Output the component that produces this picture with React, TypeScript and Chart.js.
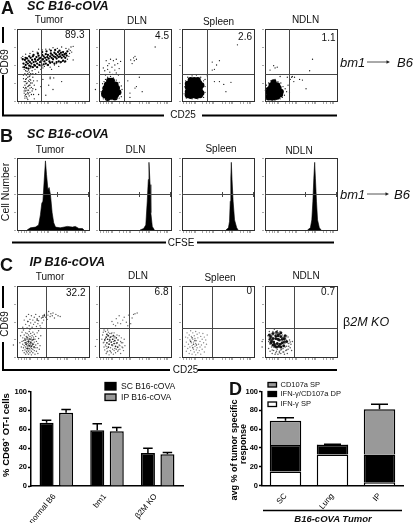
import React, { useEffect, useRef } from "react";
import { Chart, registerables } from "chart.js";

Chart.register(...registerables);

const FONT = '"Liberation Sans", Arial, sans-serif';

// ---- Flow cytometry dot plots: flat x,y lists, percent of panel axes ----
const aTumorSparse = [6,60,8,47,10,44,12,42,11,38,14,45,16,43,13,36,17,40,19,46,15,33,18,35,21,42,20,37,12,30,16,28,14,25,10,27,18,30,22,33,11,22,15,20,13,18,17,22,19,25,20,19,9,19,12,14,16,15,18,12,10,11,14,10,21,14,13,6,23,9,11,4,17,7,24,3,15,2,26,16,28,28,30,40,33,44,36,46,25,44,38,48,42,50,46,47,48,44,52,50,55,52,60,53,58,48,63,55,66,54,70,58,72,62,74,70,75,75,73,66,76,68,78,57,40,72,45,72,50,74,56,73,62,75,28,68,22,69,18,66,30,72,35,71,12,65,8,62,68,73,72,72,46,31,46,33,51,32,44,22,50,16,62,27,36,30,33,20,30,9,78,76,40,8,-7,16,15,-7,16,-8,9,36,13,31,15,38,17,34,11,17,13,24,16,21,19,29,21,25,10,14,12,9,15,12,18,18,20,9,22,17,24,22,26,38,14,41,17,27,19,38,22,38,12,27,9,31,16,10,14,4,12,19,23,28,18,22,14,15,11,7];
const aTumorCore = [9,52,11,57,12,50,13,54,14,59,15,52,16,56,17,49,18,54,19,60,20,52,21,57,22,62,23,54,24,50,25,58,26,55,27,61,28,52,29,57,30,63,31,59,32,54,33,60,34,56,35,64,36,58,37,62,38,55,39,60,40,65,41,57,42,61,43,64,44,59,45,55,46,62,47,66,48,60,49,64,50,58,51,62,52,67,53,61,54,65,55,59,56,63,57,68,58,61,59,65,60,62,61,67,62,60,63,64,64,68,65,62,66,65,67,60,68,66,69,63,70,69,8,58,12,60,17,62,23,64,29,66,35,68,41,69,47,70,53,71,59,70,10,47,13,46,16,45,19,48,22,47,25,49,28,47,31,50,34,49,37,51,40,52,43,50,46,53,49,54,52,52,55,54,58,55,61,54,64,56,67,55];
const aDlnSparse = [4,7,3,13,5,18,5,24,7,27,9,30,12,33,16,34,20,32,24,29,28,26,31,21,32,16,30,10,31,6,28,4,24,3,18,2,10,2,6,3,8,42,12,44,15,40,18,47,22,50,26,52,14,52,20,56,10,56,24,58,6,46,28,45,16,58,30,55,12,49,22,43,24,39,19,37,9,36,27,36,44,57,48,60,50,62,46,52,49,56,52,58,43,11,43,5,50,18,60,13,52,20,40,28,56,33,78,75,-5,16,18,-8];
const aDlnCore = [8,8,12,7,16,6,20,7,24,9,8,13,12,13,16,12,20,12,24,14,27,12,9,18,13,18,17,18,21,18,25,18,11,23,15,24,19,23,23,23,14,28,18,28,7,10,22,5,12,4];
const aSpleenSparse = [3,10,4,20,5,28,8,33,14,35,20,36,26,33,30,28,32,20,32,12,30,5,22,3,14,3,6,4,42,54,48,50,52,56,45,44,42,43,77,78,45,27,52,27,68,26,58,23,61,13,35,35,32,30,18,-8];
const aSpleenCore = [8,8,12,7,16,8,20,7,25,8,8,13,12,13,16,14,20,13,25,14,8,19,12,19,16,19,20,19,25,19,8,24,12,25,16,24,20,25,24,25,12,29,17,29,22,29,27,11,27,22];
const aNdlnSparse = [2,3,2,9,2,16,2,22,5,25,8,28,14,30,18,27,22,25,25,20,28,17,30,13,27,8,24,5,21,3,15,2,10,1,32,22,35,30,34,12,40,27,37,33,48,30,66,58,62,42,52,29,57,17,21,34,31,33,12,49,14,46,7,43,17,47,38,34,41,33,-6,14,18,-7];
const aNdlnCore = [5,5,9,5,13,5,17,6,5,9,9,9,13,9,17,10,21,9,6,13,10,13,14,13,18,14,22,13,7,17,11,18,15,17,19,18,9,22,13,22,17,22,12,26,4,15];

const cTumorSparse = [6,14,7,22,8,9,8,18,8,27,9,13,9,23,10,6,10,16,10,31,11,10,11,20,11,26,12,4,12,14,12,18,12,24,12,34,13,8,13,12,13,21,13,29,14,6,14,16,14,19,14,25,14,33,15,10,15,14,15,22,15,28,16,4,16,8,16,17,16,20,16,24,16,31,17,12,17,15,17,26,17,36,18,6,18,10,18,19,18,22,18,29,19,14,19,17,19,25,19,33,20,3,20,8,20,12,20,21,20,27,21,16,21,19,21,30,22,6,22,11,22,24,22,35,23,14,23,18,23,28,24,9,24,21,24,32,25,4,25,13,25,25,26,17,26,29,27,8,27,22,28,13,28,34,29,19,29,5,30,26,31,11,32,16,33,30,30,37,5,30,4,20,7,35,9,38,-5,17,8,42,10,52,12,46,13,57,14,41,15,50,16,60,17,44,18,53,19,48,20,58,21,42,22,52,23,46,24,56,25,49,26,60,27,43,28,54,29,47,30,51,31,57,32,44,34,55,35,48,36,58,37,52,38,60,40,56,41,62,42,53,43,59,44,64,46,57,47,61,49,58,50,62,52,55,54,60,57,58,60,57,25,40,33,41,18,39,16,-8];
const cTumorCore = [11,24,13,18,14,27,15,12,16,22,17,16,18,25,19,20,20,15,21,24,22,18,12,20,24,14,23,25,36,56,38,58,28,52,15,50];
const cDlnSparse = [4,25,5,31,6,20,6,35,7,14,8,10,9,17,9,36,10,5,11,12,12,8,13,35,14,3,15,9,15,33,16,13,17,6,18,34,19,11,20,4,21,9,21,34,22,29,23,6,24,11,25,31,26,8,27,24,28,17,28,30,29,11,30,5,30,22,31,27,32,14,33,20,34,9,35,25,36,16,7,38,12,38,18,50,20,46,24,54,26,48,30,47,33,52,35,56,38,49,41,59,44,47,46,55,48,60,50,61,53,62,28,58,23,44,40,44,-5,15,16,-8,7,21,9,26,10,15,12,30,14,22,16,8,17,33,19,16,20,22,22,12,24,19,26,24,27,10,29,16,31,20,33,13,11,7,15,27,18,29,21,27];
const cDlnCore = [8,24,10,28,11,20,12,25,13,30,14,18,15,24,16,28,17,21,18,17,19,25,20,30,21,19,22,23,23,15,24,27,25,20,13,14,26,14,11,32];
const cSpleenSparse = [4,15,5,28,6,8,6,21,7,34,8,12,8,27,9,18,10,5,10,31,11,14,11,24,12,9,12,37,13,20,13,29,14,4,14,16,15,25,15,34,16,11,16,21,17,7,17,30,18,15,18,26,19,3,19,19,19,36,20,10,20,23,21,32,21,13,22,6,22,27,23,18,24,34,24,9,25,22,25,14,26,29,26,4,27,17,28,25,28,11,29,33,30,20,31,7,31,28,32,14,33,24,34,18,35,31,16,-8];
const cSpleenCore = [12,22,14,27,16,18,18,23,20,17,15,13];
const cNdlnSparse = [4,30,5,22,5,12,6,36,7,8,8,32,9,14,10,5,11,36,12,9,13,39,14,4,15,34,16,8,17,37,18,4,19,33,20,8,21,36,22,5,23,11,24,31,25,7,26,28,27,4,28,20,29,9,29,25,30,15,31,5,32,28,32,11,33,19,34,24,35,13,36,18,37,9,38,22,-4,14,-4,22,16,-8,6,27,7,18,8,24,9,30,10,10,11,31,12,14,14,34,15,6,16,31,17,11,18,34,20,6,21,31,22,10,24,27,25,12,26,7,27,23,28,14,29,28,30,10,31,20,33,15,35,21,30,30];
const cNdlnCore = [8,29,11,33,15,26,12,21,18,30,20,24,17,19,22,29,24,20,19,15,14,15,25,26,27,21,9,23,6,31,16,35,22,34,15,30,11,26,18,25,21,18,24,25,13,18,27,26,16,14,8,20,30,22,28,30,19,32,7,25,11,17,22,14,26,16];

// ---- CFSE histograms: flat x,y lists ----
const bTumorHist = [14,0,18.6,3,25.6,4,30,7,32.5,21,34.4,37,36,40,37.7,68,39.5,96,41,77,43,56,44.6,59,46.5,49,48.8,24,51,10,53.5,4,60,3,70,5,77,4,81,5,86,2,91,2,93,0];
const bDlnHist = [57,0,62,2,65,7,67,40,68.5,70,69.4,94,71,63,72,24,74,5,77,0];
const bSpleenHist = [61,0,64.5,3,66,12,67,40,67.8,72,68.5,94,69.5,70,71,40,73,14,76,3,78,0];
const bNdlnHist = [59,0,63,3,65,14,66.5,40,67.8,72,69,94,70,72,71.5,40,73,14,75.5,3,78,0];

const panelNames = ["Tumor", "DLN", "Spleen", "NDLN"];
const aPercents = ["89.3", "4.5", "2.6", "1.1"];
const cPercents = ["32.2", "6.8", "0", "0.7"];

const bottomTicks = [2,6,10,13,16,18,28,33,38,41,43,55,60,65,68,70,80,85,90,93,95];
const leftTicks = [0,25,50,75,100];
const aGateX = [34,34.7,34.7,33.8];
const aGateY = [38,38,38,38];
const cGateX = [39.8,41.2,41.2,40.7];
const cGateY = [41.4,41.4,41.4,41.4];
const histGateX = 55.5;
const histGateY = 50;

// ---- Bar panels ----
const barCategories = ["normal B6", "bm1", "\u03b22M KO"];
const scName = "SC B16-cOVA";
const ipName = "IP B16-cOVA";
const scValues = [67, 59, 35];
const ipValues = [77.5, 58, 33.5];
const scErrTop = [69.5, 66, 40];
const ipErrTop = [81, 62, 35.5];

const tumorCategories = ["SC", "Lung", "IP"];
const ifnName = "IFN-\u03b3 SP";
const dpName = "IFN-\u03b3/CD107a DP";
const cdName = "CD107a SP";
const ifnValues = [15, 33, 3];
const dpValues = [28, 10, 30];
const cdValues = [26, 0.5, 48];
const stackErrTop = [72, 44, 86.5];

const toPoints = (flat: number[]) => {
  const out: { x: number; y: number }[] = [];
  for (let i = 0; i < flat.length; i += 2) out.push({ x: flat[i], y: flat[i + 1] });
  return out;
};

const PAD = 9;
const columns = [17, 99, 182, 265];
const panelW = 72;

function frameBits(chart: any, ctx: any) {
  const { left, right, top, bottom } = chart.chartArea;
  const { x, y } = chart.scales;
  ctx.save();
  ctx.strokeStyle = "#a8a8a8";
  ctx.lineWidth = 1;
  ctx.beginPath();
  bottomTicks.forEach((t) => {
    const px = Math.round(x.getPixelForValue(t)) + 0.5;
    ctx.moveTo(px, bottom + 1);
    ctx.lineTo(px, bottom + 3);
  });
  leftTicks.forEach((t) => {
    const py = Math.round(y.getPixelForValue(t)) + 0.5;
    ctx.moveTo(left - 3, py);
    ctx.lineTo(left - 1, py);
  });
  ctx.stroke();
  ctx.strokeStyle = "#2f2f2f";
  ctx.strokeRect(left + 0.5, top + 0.5, right - left, bottom - top);
  ctx.restore();
}

function flowConfig(sparse: number[], core: number[], gx: number, gy: number, sparseR: number, coreR: number, sparseColor: string, coreColor: string): any {
  return {
    type: "scatter",
    data: {
      datasets: [
        { data: toPoints(sparse), pointRadius: sparseR, backgroundColor: sparseColor, borderWidth: 0, clip: false },
        { data: toPoints(core), pointRadius: coreR, backgroundColor: coreColor, borderWidth: 0, clip: false },
      ],
    },
    options: {
      animation: false,
      responsive: false,
      devicePixelRatio: 1,
      layout: { padding: PAD },
      events: [],
      plugins: { legend: { display: false }, tooltip: { enabled: false } },
      scales: {
        x: { type: "linear", min: 0, max: 100, display: false },
        y: { type: "linear", min: 0, max: 100, display: false },
      },
    },
    plugins: [
      {
        id: "flowFrame",
        afterDatasetsDraw(chart: any) {
          const { ctx, chartArea } = chart;
          const { x, y } = chart.scales;
          frameBits(chart, ctx);
          ctx.save();
          ctx.strokeStyle = "#474747";
          ctx.lineWidth = 1;
          ctx.beginPath();
          const vx = Math.round(x.getPixelForValue(gx)) + 0.5;
          const hy = Math.round(y.getPixelForValue(gy)) + 0.5;
          ctx.moveTo(vx, chartArea.top);
          ctx.lineTo(vx, chartArea.bottom);
          ctx.moveTo(chartArea.left, hy);
          ctx.lineTo(chartArea.right, hy);
          ctx.stroke();
          ctx.restore();
        },
      },
    ],
  };
}

function histConfig(points: number[]): any {
  return {
    type: "line",
    data: {
      datasets: [
        {
          data: toPoints(points),
          borderColor: "#000",
          borderWidth: 0.6,
          backgroundColor: "#000",
          fill: "origin",
          pointRadius: 0,
          tension: 0,
        },
      ],
    },
    options: {
      animation: false,
      responsive: false,
      devicePixelRatio: 1,
      layout: { padding: PAD },
      events: [],
      plugins: { legend: { display: false }, tooltip: { enabled: false } },
      scales: {
        x: { type: "linear", min: 0, max: 100, display: false },
        y: { type: "linear", min: 0, max: 100, display: false },
      },
    },
    plugins: [
      {
        id: "histFrame",
        afterDatasetsDraw(chart: any) {
          const { ctx, chartArea } = chart;
          const { x, y } = chart.scales;
          frameBits(chart, ctx);
          ctx.save();
          ctx.strokeStyle = "#474747";
          ctx.lineWidth = 1;
          ctx.beginPath();
          const hy = Math.round(y.getPixelForValue(histGateY)) + 0.5;
          const vx = Math.round(x.getPixelForValue(histGateX)) + 0.5;
          ctx.moveTo(chartArea.left, hy);
          ctx.lineTo(chartArea.right, hy);
          [chartArea.left + 0.5, vx, chartArea.right - 0.5].forEach((px) => {
            ctx.moveTo(px, hy - 2.5);
            ctx.lineTo(px, hy + 2.5);
          });
          ctx.stroke();
          ctx.restore();
        },
      },
    ],
  };
}

const errorPlugin = (capW: number, tops: number[][]) => ({
  id: "errorTop",
  afterDatasetsDraw(chart: any) {
    const { ctx } = chart;
    const y = chart.scales.y;
    ctx.save();
    ctx.strokeStyle = "#000";
    ctx.lineWidth = 1.5;
    tops.forEach((series, di) => {
      if (!series) return;
      const meta = chart.getDatasetMeta(di);
      series.forEach((value, i) => {
        const el = meta.data[i];
        const py = y.getPixelForValue(value);
        ctx.beginPath();
        ctx.moveTo(el.x, el.y);
        ctx.lineTo(el.x, py);
        ctx.moveTo(el.x - capW / 2, py);
        ctx.lineTo(el.x + capW / 2, py);
        ctx.stroke();
      });
    });
    ctx.restore();
  },
});

const tickFont = { family: FONT, size: 7.5, weight: "bold" as const };

function barOptions(axisW: number, axisH: number, padRight: number, stacked: boolean, labelShift: number): any {
  return {
    animation: false,
    responsive: false,
    devicePixelRatio: 1,
    events: [],
    layout: { padding: { left: 0, right: padRight, top: 16.5, bottom: 0 } },
    plugins: { legend: { display: false }, tooltip: { enabled: false } },
    scales: {
      x: {
        stacked,
        grid: { display: false },
        border: { color: "#000", width: 1.5 },
        ticks: {
          color: "#000",
          font: { family: FONT, size: 8 },
          minRotation: 50,
          maxRotation: 50,
          autoSkip: false,
          padding: -2,
          labelOffset: labelShift,
        },
        afterFit(s: any) {
          s.height = axisH;
        },
      },
      y: {
        stacked,
        min: 0,
        max: 100,
        grid: { drawOnChartArea: false, tickLength: 3, tickColor: "#000", tickWidth: 1.5 },
        border: { color: "#000", width: 1.5 },
        ticks: { stepSize: 20, color: "#000", font: tickFont, padding: 1 },
        afterFit(s: any) {
          s.width = axisW;
        },
      },
    },
  };
}

function percentBarConfig(): any {
  const common = { borderColor: "#000", borderWidth: 1.5, categoryPercentage: 0.77, barPercentage: 0.72 };
  return {
    type: "bar",
    data: {
      labels: barCategories,
      datasets: [
        { label: scName, data: scValues, backgroundColor: "#000", ...common },
        { label: ipName, data: ipValues, backgroundColor: "#999", ...common },
      ],
    },
    options: barOptions(31, 37, 7, false, -2),
    plugins: [errorPlugin(9.5, [scErrTop, ipErrTop])],
  };
}

function stackedBarConfig(): any {
  const common = { borderColor: "#000", borderWidth: 1.5, categoryPercentage: 1, barPercentage: 0.67 };
  return {
    type: "bar",
    data: {
      labels: tumorCategories,
      datasets: [
        { label: ifnName, data: ifnValues, backgroundColor: "#fff", ...common },
        { label: dpName, data: dpValues, backgroundColor: "#000", ...common },
        { label: cdName, data: cdValues, backgroundColor: "#999", ...common },
      ],
    },
    options: barOptions(57, 37.5, 10, true, 0),
    plugins: [errorPlugin(17, [null as any, null as any, stackErrTop])],
  };
}

function Plot({ left, top, width, height, build }: { left: number; top: number; width: number; height: number; build: () => any }) {
  const ref = useRef<HTMLCanvasElement>(null);
  useEffect(() => {
    const chart = new Chart(ref.current as HTMLCanvasElement, build());
    return () => chart.destroy();
  }, []);
  return <canvas ref={ref} width={width} height={height} style={{ position: "absolute", left, top, width, height }} />;
}

type TP = {
  x: number;
  y: number;
  size?: number;
  anchor?: "start" | "middle" | "end";
  bold?: boolean;
  italic?: boolean;
  rotate?: number;
  color?: string;
  children: React.ReactNode;
};
function T({ x, y, size = 10, anchor = "middle", bold, italic, rotate = 0, color = "#111", children }: TP) {
  const tx = anchor === "start" ? "0" : anchor === "end" ? "-100%" : "-50%";
  return (
    <div
      style={{
        position: "absolute",
        left: x,
        top: y,
        fontFamily: FONT,
        fontSize: size,
        lineHeight: 1,
        whiteSpace: "nowrap",
        fontWeight: bold ? "bold" : "normal",
        fontStyle: italic ? "italic" : "normal",
        color,
        transform: `translate(${tx}, -50%) rotate(${rotate}deg)`,
      }}
    >
      {children}
    </div>
  );
}

function Rule({ x1, y1, x2, y2, w = 2, c = "#000" }: { x1: number; y1: number; x2: number; y2: number; w?: number; c?: string }) {
  return <line x1={x1} y1={y1} x2={x2} y2={y2} stroke={c} strokeWidth={w} />;
}

function Arrow({ x1, x2, y }: { x1: number; x2: number; y: number }) {
  return (
    <>
      <line x1={x1} y1={y} x2={x2 - 3} y2={y} stroke="#555" strokeWidth={1} />
      <polygon points={`${x2},${y} ${x2 - 3.5},${y - 1.8} ${x2 - 3.5},${y + 1.8}`} fill="#222" />
    </>
  );
}

function Swatch({ x, y, w, h, fill }: { x: number; y: number; w: number; h: number; fill: string }) {
  return <rect x={x} y={y} width={w} height={h} fill={fill} stroke="#000" strokeWidth={1.3} />;
}

const rowASets = [
  [aTumorSparse, aTumorCore, 0.65, 1.15],
  [aDlnSparse, aDlnCore, 0.65, 3],
  [aSpleenSparse, aSpleenCore, 0.65, 3],
  [aNdlnSparse, aNdlnCore, 0.65, 3],
] as const;
const rowCSets = [
  [cTumorSparse, cTumorCore, 0.7, 0.8, "#555", "#111"],
  [cDlnSparse, cDlnCore, 0.7, 0.85, "#666", "#222"],
  [cSpleenSparse, cSpleenCore, 0.7, 0.8, "#888", "#444"],
  [cNdlnSparse, cNdlnCore, 0.75, 1.5, "#555", "#111"],
] as const;
const rowBSets = [bTumorHist, bDlnHist, bSpleenHist, bNdlnHist];

export default function App() {
  const aTitleY = [20, 21, 22, 20];
  const aTitleX = [49, 137, 218.5, 305.5];
  const bTitleY = [150, 150, 149, 151];
  const bTitleX = [50, 135.5, 221, 299];
  const cTitleY = [277, 276, 278, 276];
  const cTitleX = [50, 138, 220, 306];
  const aNumX = [84.5, 169, 252, 335.5];
  const aNumY = [35, 36, 37, 38];
  const cNumX = [85.5, 168.5, 252, 335];
  const cNumY = [292.5, 291.5, 291, 291.5];
  return (
    <div style={{ position: "absolute", left: 0, top: 0, width: 413, height: 523, overflow: "hidden", background: "#fff" }}>
      {rowASets.map((s, i) => (
        <Plot
          key={"a" + i}
          left={columns[i] - PAD}
          top={29 - PAD}
          width={panelW + PAD * 2}
          height={72 + PAD * 2}
          build={() => flowConfig(s[0] as any, s[1] as any, aGateX[i], aGateY[i], s[2], s[3], "#1a1a1a", "#000")}
        />
      ))}
      {rowBSets.map((s, i) => (
        <Plot
          key={"b" + i}
          left={columns[i] - PAD}
          top={158 - PAD}
          width={panelW + PAD * 2}
          height={72 + PAD * 2}
          build={() => histConfig(s)}
        />
      ))}
      {rowCSets.map((s, i) => (
        <Plot
          key={"c" + i}
          left={columns[i] - PAD}
          top={286 - PAD}
          width={panelW + PAD * 2}
          height={71 + PAD * 2}
          build={() => flowConfig(s[0] as any, s[1] as any, cGateX[i], cGateY[i], s[2], s[3], s[4], s[5])}
        />
      ))}
      <Plot left={0} top={375} width={190} height={148} build={percentBarConfig} />
      <Plot left={205} top={375} width={208} height={148} build={stackedBarConfig} />

      <svg width={413} height={523} style={{ position: "absolute", left: 0, top: 0, pointerEvents: "none" }}>
        <Rule x1={3} y1={27} x2={3} y2={43} />
        <Rule x1={3} y1={75} x2={3} y2={116} />
        <Rule x1={2} y1={115.5} x2={164} y2={115.5} />
        <Rule x1={202} y1={115.5} x2={337} y2={115.5} />
        <Rule x1={12} y1={242.5} x2={166} y2={242.5} />
        <Rule x1={197} y1={242.5} x2={334} y2={242.5} />
        <Rule x1={3} y1={286} x2={3} y2={308} />
        <Rule x1={3} y1={342} x2={3} y2={371} />
        <Rule x1={2} y1={370} x2={170} y2={370} />
        <Rule x1={198} y1={370} x2={337} y2={370} />
        <Rule x1={263} y1={510.5} x2={402} y2={510.5} w={1.5} />
        <Arrow x1={367} x2={390} y={62} />
        <Arrow x1={367} x2={389} y={194} />
        <Swatch x={105} y={382.5} w={11} h={7.5} fill="#000" />
        <Swatch x={105} y={394} w={11} h={6.5} fill="#999" />
        <Swatch x={268} y={382.5} w={8.5} h={4.5} fill="#999" />
        <Swatch x={268} y={391.5} w={8.5} h={5} fill="#000" />
        <Swatch x={268} y={402} w={8.5} h={4.5} fill="#fff" />
      </svg>

      <T x={1} y={8} size={18} bold anchor="start">A</T>
      <T x={27} y={5.5} size={12.6} bold italic anchor="start">SC B16-cOVA</T>
      <T x={0} y={136} size={18} bold anchor="start">B</T>
      <T x={27} y={134} size={12.6} bold italic anchor="start">SC B16-cOVA</T>
      <T x={0} y={265} size={18} bold anchor="start">C</T>
      <T x={29.5} y={261.5} size={12.6} bold italic anchor="start">IP B16-cOVA</T>
      <T x={229} y={389} size={18} bold anchor="start">D</T>

      {panelNames.map((n, i) => <T key={"ta" + i} x={aTitleX[i]} y={aTitleY[i]}>{n}</T>)}
      {panelNames.map((n, i) => <T key={"tb" + i} x={bTitleX[i]} y={bTitleY[i]}>{n}</T>)}
      {panelNames.map((n, i) => <T key={"tc" + i} x={cTitleX[i]} y={cTitleY[i]}>{n}</T>)}
      {aPercents.map((n, i) => <T key={"na" + i} x={aNumX[i]} y={aNumY[i]} anchor="end">{n}</T>)}
      {cPercents.map((n, i) => <T key={"nc" + i} x={cNumX[i]} y={cNumY[i]} anchor="end">{n}</T>)}

      <T x={4.5} y={62} rotate={-90}>CD69</T>
      <T x={183} y={115}>CD25</T>
      <T x={4.5} y={192} size={10.5} rotate={-90}>Cell Number</T>
      <T x={181} y={243}>CFSE</T>
      <T x={4.5} y={324} rotate={-90}>CD69</T>
      <T x={185.5} y={370}>CD25</T>

      <T x={340} y={62} size={13} italic anchor="start">bm1</T>
      <T x={397} y={62} size={13} italic anchor="start">B6</T>
      <T x={340} y={194} size={13} italic anchor="start">bm1</T>
      <T x={394} y={194} size={13} italic anchor="start">B6</T>
      <T x={343} y={322} size={12.5} anchor="start">
        {"\u03b2"}<span style={{ fontStyle: "italic" }}>2M KO</span>
      </T>

      <T x={5.5} y={435} size={9.5} bold rotate={-90} color="#000">
        % CD69<sup style={{ fontSize: 6, lineHeight: 0 }}>+</sup> OT-I cells
      </T>
      <T x={234} y={450} size={9} bold rotate={-90} color="#000">avg % of tumor specific</T>
      <T x={243} y={444} size={9} bold rotate={-90} color="#000">response</T>

      <T x={121} y={385.5} size={8.6} anchor="start">{scName}</T>
      <T x={121} y={397} size={8.6} anchor="start">{ipName}</T>
      <T x={280.5} y={384.7} size={7.5} anchor="start">{cdName}</T>
      <T x={280.5} y={394} size={7.5} anchor="start">{dpName}</T>
      <T x={280.5} y={404} size={7.5} anchor="start">{ifnName}</T>
      <T x={333} y={519} size={9.5} bold italic>B16-cOVA Tumor</T>
    </div>
  );
}
